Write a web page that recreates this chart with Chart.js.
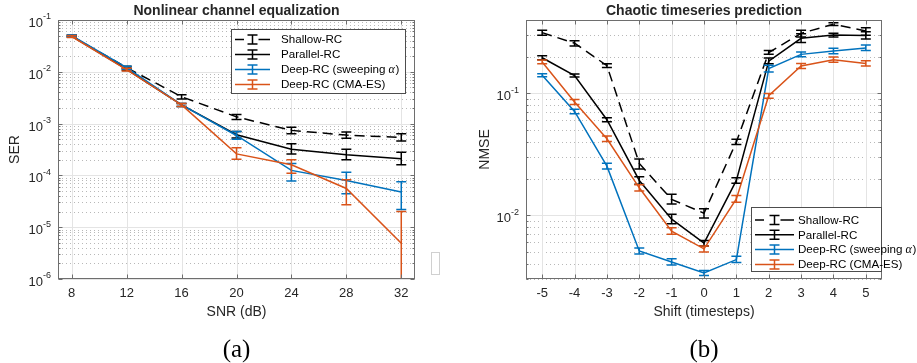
<!DOCTYPE html>
<html>
<head>
<meta charset="utf-8">
<script src="https://cdn.jsdelivr.net/npm/chart.js@4.4.0/dist/chart.umd.min.js"></script>
<style>
  html, body { margin: 0; padding: 0; background: #fff; }
  #wrap { position: relative; width: 917px; height: 363px; }
  canvas { position: absolute; top: 0; }
  #c1 { left: 0; }
  #c2 { left: 460px; }
  #stub { position: absolute; left: 431px; top: 252px; width: 7px; height: 21px; border: 1px solid #d0d0d0; }
</style>
</head>
<body>
<div id="wrap">
  <canvas id="c1" width="460" height="363"></canvas>
  <canvas id="c2" width="457" height="363"></canvas>
  <div id="stub"></div>
</div>
<script>
// ---- (a) Nonlinear channel equalization ----
const snr = [8, 12, 16, 20, 24, 28, 32];
const serShallow   = [0.049, 0.0120, 3.3e-3, 1.35e-3, 7.4e-4, 6.0e-4, 5.4e-4];
const serShallowLo = [0.047, 0.0113, 3.0e-3, 1.20e-3, 6.4e-4, 5.2e-4, 4.6e-4];
const serShallowHi = [0.051, 0.0128, 3.6e-3, 1.50e-3, 8.5e-4, 6.9e-4, 6.4e-4];
const serParallel   = [0.049, 0.0112, 2.3e-3, 6.1e-4, 3.2e-4, 2.5e-4, 2.1e-4];
const serParallelLo = [0.047, 0.0106, 2.15e-3, 5.3e-4, 2.6e-4, 2.0e-4, 1.6e-4];
const serParallelHi = [0.051, 0.0119, 2.45e-3, 7.0e-4, 4.1e-4, 3.2e-4, 2.8e-4];
const serSweep   = [0.050, 0.0120, 2.3e-3, 5.9e-4, 1.25e-4, 8.0e-5, 4.8e-5];
const serSweepLo = [0.048, 0.0112, 2.15e-3, 5.0e-4, 7.8e-5, 4.4e-5, 2.2e-5];
const serSweepHi = [0.052, 0.0128, 2.45e-3, 7.0e-4, 1.7e-4, 1.15e-4, 7.5e-5];
const serCma   = [0.048, 0.0110, 2.3e-3, 2.6e-4, 1.6e-4, 5.6e-5, 4.9e-6];
const serCmaLo = [0.046, 0.0104, 2.15e-3, 2.05e-4, 1.1e-4, 2.7e-5, 1e-9];
const serCmaHi = [0.050, 0.0117, 2.45e-3, 3.4e-4, 2.0e-4, 8.2e-5, 2.0e-5];

// ---- (b) Chaotic timeseries prediction ----
const shift = [-5, -4, -3, -2, -1, 0, 1, 2, 3, 4, 5];
const nmseShallow   = [0.315, 0.258, 0.169, 0.0266, 0.0135, 0.0104, 0.040, 0.216, 0.311, 0.369, 0.325];
const nmseShallowLo = [0.300, 0.245, 0.163, 0.0240, 0.0124, 0.0095, 0.038, 0.209, 0.290, 0.360, 0.300];
const nmseShallowHi = [0.330, 0.270, 0.175, 0.0290, 0.0149, 0.0113, 0.042, 0.225, 0.330, 0.380, 0.345];
const nmseParallel   = [0.196, 0.140, 0.0608, 0.0193, 0.0093, 0.0059, 0.0193, 0.184, 0.283, 0.301, 0.299];
const nmseParallelLo = [0.189, 0.136, 0.0585, 0.0180, 0.0085, 0.0056, 0.0183, 0.175, 0.262, 0.290, 0.280];
const nmseParallelHi = [0.204, 0.144, 0.0630, 0.0207, 0.0102, 0.0062, 0.0203, 0.195, 0.308, 0.312, 0.320];
const nmseSweep   = [0.141, 0.0711, 0.0253, 0.0051, 0.00414, 0.00336, 0.00433, 0.160, 0.209, 0.223, 0.236];
const nmseSweepLo = [0.137, 0.0680, 0.0240, 0.0048, 0.00390, 0.00320, 0.00410, 0.150, 0.200, 0.211, 0.225];
const nmseSweepHi = [0.145, 0.0742, 0.0267, 0.0054, 0.00440, 0.00352, 0.00460, 0.170, 0.219, 0.235, 0.250];
const nmseCma   = [0.181, 0.085, 0.0424, 0.0168, 0.0074, 0.0053, 0.0136, 0.0957, 0.168, 0.189, 0.176];
const nmseCmaLo = [0.175, 0.081, 0.0403, 0.0158, 0.0070, 0.0050, 0.0128, 0.0910, 0.160, 0.180, 0.168];
const nmseCmaHi = [0.188, 0.089, 0.0446, 0.0178, 0.0079, 0.0056, 0.0145, 0.1000, 0.176, 0.199, 0.185];

const legendLabels = ["Shallow-RC", "Parallel-RC", "Deep-RC (sweeping α)", "Deep-RC (CMA-ES)"];

const FONT = '"Liberation Sans", Arial, Helvetica, sans-serif';
const C_BLUE = "#0072BD";
const C_ORANGE = "#D95319";
const C_BLACK = "#000000";
const C_TEXT = "#262626";

function pts(xs, ys) {
  return xs.map((v, i) => ({ x: v, y: ys[i] }));
}

function series(label, xs, ys, lo, hi, color, dash, order) {
  return {
    label: label,
    data: pts(xs, ys),
    errLo: lo,
    errHi: hi,
    borderColor: color,
    backgroundColor: color,
    borderWidth: 1.5,
    borderDash: dash,
    pointRadius: 0,
    tension: 0,
    fill: false,
    order: order,
  };
}

// decades and 2..9 subdivisions between min and max
function logLines(min, max) {
  const major = [], minor = [];
  for (let d = Math.floor(Math.log10(min)); d <= Math.ceil(Math.log10(max)); d++) {
    for (let m = 1; m <= 9; m++) {
      const v = m * Math.pow(10, d);
      if (v < min * 0.999 || v > max * 1.001) continue;
      if (m === 1) major.push(v); else minor.push(v);
    }
  }
  return { major, minor };
}

const matlabAxes = {
  id: "matlab",
  beforeDatasetsDraw(chart, args, opts) {
    const { ctx, chartArea: a, scales } = chart;
    const x = scales.x, y = scales.y;
    const lines = logLines(y.min, y.max);
    ctx.save();
    ctx.lineWidth = 1;
    // minor dotted grid
    ctx.strokeStyle = "rgba(0,0,0,0.28)";
    ctx.setLineDash([1, 3]);
    lines.minor.forEach((v) => {
      const py = Math.round(y.getPixelForValue(v)) + 0.5;
      ctx.beginPath(); ctx.moveTo(a.left, py); ctx.lineTo(a.right, py); ctx.stroke();
    });
    // major solid grid
    ctx.setLineDash([]);
    ctx.strokeStyle = "#e4e4e4";
    lines.major.forEach((v) => {
      const py = Math.round(y.getPixelForValue(v)) + 0.5;
      ctx.beginPath(); ctx.moveTo(a.left, py); ctx.lineTo(a.right, py); ctx.stroke();
    });
    opts.xTicks.forEach((v) => {
      const px = Math.round(x.getPixelForValue(v)) + 0.5;
      ctx.beginPath(); ctx.moveTo(px, a.top); ctx.lineTo(px, a.bottom); ctx.stroke();
    });
    ctx.restore();
  },
  afterDatasetDraw(chart, args) {
    const ds = chart.data.datasets[args.index];
    if (!ds.errLo) return;
    const { ctx, chartArea: a, scales } = chart;
    const x = scales.x, y = scales.y;
    const cap = 5;
    ctx.save();
    ctx.beginPath();
    ctx.rect(a.left, a.top, a.right - a.left, a.bottom - a.top);
    ctx.clip();
    ctx.strokeStyle = ds.borderColor;
    ctx.lineWidth = ds.borderWidth;
    ctx.setLineDash([]);
    ds.data.forEach((p, k) => {
      const px = x.getPixelForValue(p.x);
      const pLo = y.getPixelForValue(ds.errLo[k]);
      const pHi = y.getPixelForValue(ds.errHi[k]);
      ctx.beginPath();
      ctx.moveTo(px, pLo); ctx.lineTo(px, pHi);
      ctx.moveTo(px - cap, pLo); ctx.lineTo(px + cap, pLo);
      ctx.moveTo(px - cap, pHi); ctx.lineTo(px + cap, pHi);
      ctx.stroke();
    });
    ctx.restore();
  },
  afterDraw(chart, args, opts) {
    const { ctx, chartArea: a, scales } = chart;
    const x = scales.x, y = scales.y;
    const lines = logLines(y.min, y.max);
    const cx = (a.left + a.right) / 2;
    const cy = (a.top + a.bottom) / 2;
    ctx.save();

    // axis box and inward ticks
    ctx.strokeStyle = "#6e6e6e";
    ctx.lineWidth = 1;
    ctx.setLineDash([]);
    const L = Math.round(a.left) + 0.5, R = Math.round(a.right) - 0.5;
    const T = Math.round(a.top) + 0.5, B = Math.round(a.bottom) - 0.5;
    ctx.strokeRect(L, T, R - L, B - T);
    ctx.beginPath();
    opts.xTicks.forEach((v) => {
      const px = Math.round(x.getPixelForValue(v)) + 0.5;
      ctx.moveTo(px, B); ctx.lineTo(px, B - 4);
      ctx.moveTo(px, T); ctx.lineTo(px, T + 4);
    });
    lines.major.forEach((v) => {
      const py = Math.round(y.getPixelForValue(v)) + 0.5;
      ctx.moveTo(L, py); ctx.lineTo(L + 4, py);
      ctx.moveTo(R, py); ctx.lineTo(R - 4, py);
    });
    lines.minor.forEach((v) => {
      const py = Math.round(y.getPixelForValue(v)) + 0.5;
      ctx.moveTo(L, py); ctx.lineTo(L + 2, py);
      ctx.moveTo(R, py); ctx.lineTo(R - 2, py);
    });
    ctx.stroke();

    // tick labels
    ctx.fillStyle = C_TEXT;
    ctx.font = "13px " + FONT;
    ctx.textAlign = "center";
    ctx.textBaseline = "middle";
    opts.xTicks.forEach((v) => {
      ctx.fillText(String(v), x.getPixelForValue(v), a.bottom + 14.5);
    });
    lines.major.forEach((v) => {
      const py = y.getPixelForValue(v);
      const ex = String(Math.round(Math.log10(v)));
      ctx.font = "9px " + FONT;
      const ew = ctx.measureText(ex).width;
      ctx.textAlign = "right";
      ctx.fillText(ex, a.left - 7, py - 3);
      ctx.font = "13px " + FONT;
      ctx.fillText("10", a.left - 7 - ew, py + 3.5);
    });

    // title and axis labels
    ctx.textAlign = "center";
    ctx.font = "bold 14px " + FONT;
    ctx.fillText(opts.title, cx, 11);
    ctx.font = "14px " + FONT;
    ctx.fillText(opts.xLabel, cx, a.bottom + 33);
    ctx.save();
    ctx.translate(opts.yLabelX, cy);
    ctx.rotate(-Math.PI / 2);
    ctx.fillText(opts.yLabel, 0, 0);
    ctx.restore();

    // caption
    ctx.fillStyle = "#000";
    ctx.font = '25px "Liberation Serif", "Times New Roman", serif';
    ctx.fillText(opts.caption, cx, 350);

    // legend
    const lg = opts.legend;
    ctx.fillStyle = "#fff";
    ctx.fillRect(lg.left, lg.top, lg.right - lg.left, lg.bottom - lg.top);
    ctx.strokeStyle = "#4d4d4d";
    ctx.lineWidth = 1;
    ctx.strokeRect(Math.round(lg.left) + 0.5, Math.round(lg.top) + 0.5,
      Math.round(lg.right - lg.left) - 1, Math.round(lg.bottom - lg.top) - 1);
    [0, 1, 2, 3].forEach((i) => {
      const ds = chart.data.datasets[i];
      const ry = lg.row0 + i * lg.rowDy;
      const mid = (lg.x0 + lg.x1) / 2;
      ctx.strokeStyle = ds.borderColor;
      ctx.lineWidth = 1.5;
      ctx.setLineDash([]);
      ctx.beginPath();
      if (ds.borderDash && ds.borderDash.length) {
        ctx.moveTo(lg.x0, ry); ctx.lineTo(lg.x0 + 9, ry);
        ctx.moveTo(mid + 6, ry); ctx.lineTo(lg.x1, ry);
      } else {
        ctx.moveTo(lg.x0, ry); ctx.lineTo(lg.x1, ry);
      }
      ctx.stroke();
      ctx.beginPath();
      ctx.moveTo(mid, ry - 4.5); ctx.lineTo(mid, ry + 4.5);
      ctx.moveTo(mid - 5, ry - 4.5); ctx.lineTo(mid + 5, ry - 4.5);
      ctx.moveTo(mid - 5, ry + 4.5); ctx.lineTo(mid + 5, ry + 4.5);
      ctx.stroke();

      ctx.fillStyle = "#000";
      ctx.textAlign = "left";
      const label = legendLabels[i];
      const k = label.indexOf("α");
      if (k >= 0) {
        const pre = label.slice(0, k);
        ctx.font = "11.6px " + FONT;
        ctx.fillText(pre, lg.textX, ry + 0.5);
        let tx = lg.textX + ctx.measureText(pre).width;
        ctx.font = 'italic 12px "Liberation Serif", "DejaVu Serif", serif';
        ctx.fillText("α", tx, ry);
        tx += ctx.measureText("α").width + 0.5;
        ctx.font = "11.6px " + FONT;
        ctx.fillText(label.slice(k + 1), tx, ry + 0.5);
      } else {
        ctx.font = "11.6px " + FONT;
        ctx.fillText(label, lg.textX, ry + 0.5);
      }
    });
    ctx.restore();
  },
};

function makeChart(canvasId, xs, sets, xMin, xMax, yMin, yMax, padding, plotOpts) {
  const ctx = document.getElementById(canvasId).getContext("2d");
  return new Chart(ctx, {
    type: "line",
    data: {
      datasets: [
        series(legendLabels[0], xs, sets[0][0], sets[0][1], sets[0][2], C_BLACK, [10, 6], 4),
        series(legendLabels[1], xs, sets[1][0], sets[1][1], sets[1][2], C_BLACK, [], 3),
        series(legendLabels[2], xs, sets[2][0], sets[2][1], sets[2][2], C_BLUE, [], 2),
        series(legendLabels[3], xs, sets[3][0], sets[3][1], sets[3][2], C_ORANGE, [], 1),
      ],
    },
    options: {
      responsive: false,
      animation: false,
      devicePixelRatio: 1,
      layout: { padding: padding },
      scales: {
        x: { type: "linear", min: xMin, max: xMax, display: false },
        y: { type: "logarithmic", min: yMin, max: yMax, display: false },
      },
      plugins: {
        legend: { display: false },
        tooltip: { enabled: false },
        matlab: plotOpts,
      },
    },
    plugins: [matlabAxes],
  });
}

makeChart("c1", snr,
  [
    [serShallow, serShallowLo, serShallowHi],
    [serParallel, serParallelLo, serParallelHi],
    [serSweep, serSweepLo, serSweepHi],
    [serCma, serCmaLo, serCmaHi],
  ],
  7, 33, 1e-6, 1e-1,
  { left: 58, right: 45, top: 20, bottom: 84 },
  {
    title: "Nonlinear channel equalization",
    xLabel: "SNR (dB)",
    yLabel: "SER",
    yLabelX: 15,
    caption: "(a)",
    xTicks: snr,
    legend: { left: 231, top: 29, right: 406, bottom: 94, row0: 39.5, rowDy: 15, x0: 235, x1: 270, textX: 281 },
  });

makeChart("c2", shift,
  [
    [nmseShallow, nmseShallowLo, nmseShallowHi],
    [nmseParallel, nmseParallelLo, nmseParallelHi],
    [nmseSweep, nmseSweepLo, nmseSweepHi],
    [nmseCma, nmseCmaLo, nmseCmaHi],
  ],
  -5.5, 5.5, 0.003, 0.4,
  { left: 66, right: 35, top: 20, bottom: 84 },
  {
    title: "Chaotic timeseries prediction",
    xLabel: "Shift (timesteps)",
    yLabel: "NMSE",
    yLabelX: 25,
    caption: "(b)",
    xTicks: shift,
    legend: { left: 291, top: 207, right: 422, bottom: 272, row0: 220, rowDy: 14.8, x0: 295, x1: 334, textX: 338 },
  });
</script>
</body>
</html>
